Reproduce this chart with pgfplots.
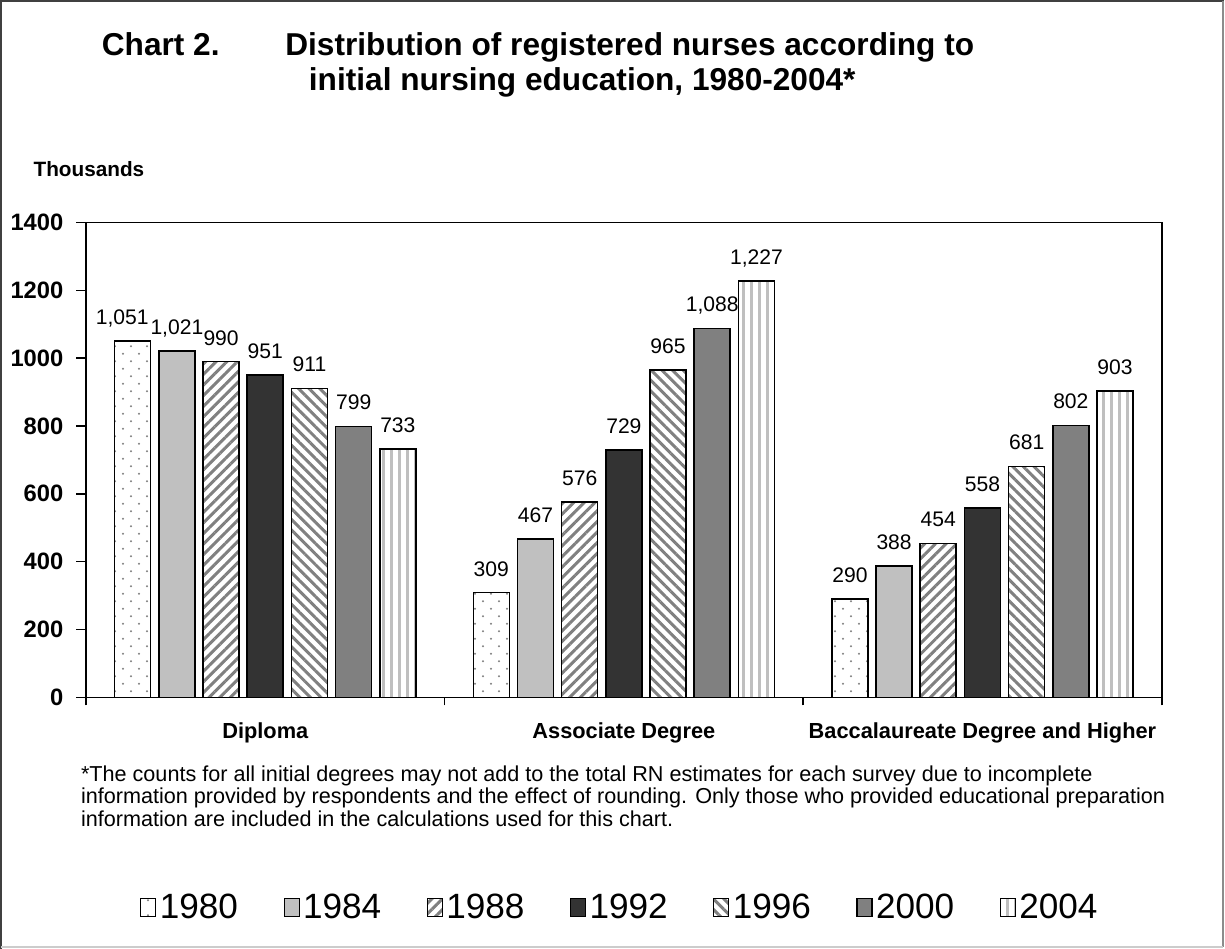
\documentclass[border=0pt]{standalone}
\usepackage{fontspec}
\setmainfont{Liberation Sans}
\usepackage{pgfplots}
\pgfplotsset{compat=1.18}
\usetikzlibrary{patterns.meta}

\definecolor{c84}{RGB}{192,192,192}
\definecolor{c92}{RGB}{51,51,51}
\definecolor{c00}{RGB}{128,128,128}

% staggered sparse dots, as in the 1980 bars
\tikzdeclarepattern{
  name=stagdots,
  type=uncolored,
  bounding box={(0,0) and (0.32cm,0.3cm)},
  tile size={(0.32cm,0.3cm)},
  code={
    \fill (0.08cm,0.075cm) circle (0.022cm);
    \fill (0.24cm,0.225cm) circle (0.022cm);
  }
}

% 1980 values, dx nudges a label sideways (pt)
\pgfplotstableread{
x y dx
0 1051 -6
1 309 0
2 290 0
}\dataA

\begin{document}
\begin{tikzpicture}
\begin{scope}[x=0.02cm,y=-0.02cm]
\useasboundingbox (0,0) rectangle (1225,949);
% frame
\draw[black!75,line width=0.05cm] (1,949) -- (1,1) -- (1224,1);
\draw[black!45,line width=0.04cm] (1223,1) -- (1223,947);
\draw[black!20,line width=0.04cm] (1,947) -- (1223,947);
% title
\node[anchor=base west,inner sep=0,font=\fontsize{18}{20}\selectfont\bfseries] at (101.5,56) {Chart 2.};
\node[anchor=base west,inner sep=0,font=\fontsize{18}{20}\selectfont\bfseries] at (285,56) {Distribution of registered nurses according to};
\node[anchor=base west,inner sep=0,font=\fontsize{18}{20}\selectfont\bfseries] at (308.6,91) {initial nursing education, 1980-2004*};
\node[anchor=base west,inner sep=0,font=\fontsize{11.8}{13}\selectfont\bfseries] at (33.3,176.7) {Thousands};
% footnote
\node[anchor=base west,inner sep=0,font=\fontsize{12.3}{14}\selectfont] at (80.7,781.7) {*The counts for all initial degrees may not add to the total RN estimates for each survey due to incomplete};
\node[anchor=base west,inner sep=0,font=\fontsize{12.3}{14}\selectfont] at (80.7,804) {information provided by respondents and the effect of rounding. Only those who provided educational preparation};
\node[anchor=base west,inner sep=0,font=\fontsize{12.3}{14}\selectfont] at (80.7,826.7) {information are included in the calculations used for this chart.};
\end{scope}

\begin{axis}[
  at={(1.72cm,-13.95cm)}, anchor=south west,
  scale only axis, width=21.52cm, height=9.5cm,
  ymin=0, ymax=1400, ytick={0,200,...,1400},
  xmin=-0.5, xmax=2.5,
  xtick={0,1,2},
  xticklabels={Diploma,Associate Degree,Baccalaureate Degree and Higher},
  minor xtick={-0.5,0.5,1.5,2.5},
  tick align=outside, ytick pos=left, xtick pos=bottom,
  major tick length=0.19cm, minor tick length=0.16cm,
  axis line style={line width=0.9pt},
  tick style={black,line width=0.9pt},
  major x tick style={draw=none},
  /pgf/number format/assume math mode=true,
  /pgf/number format/1000 sep={},
  tick label style={font=\fontsize{13.5}{14}\selectfont\bfseries},
  xticklabel style={font=\fontsize{12.4}{14}\selectfont\bfseries,anchor=base,yshift=-0.63cm},
  yticklabel style={xshift=-0.14cm},
  ybar=0.164cm, bar width=0.72cm,
  legend image code/.code={\draw[#1,line width=0.6pt] (0cm,-0.17cm) rectangle (0.3cm,0.19cm);},
  nodes near coords={\pgfmathprintnumber[1000 sep={,}]{\pgfplotspointmeta}},
  every node near coord/.append style={font=\fontsize{12}{14}\selectfont,anchor=base,yshift=0.33cm,inner sep=0},
  legend style={at={(0.497,-0.443)}, anchor=center, draw=none,
    font=\fontsize{20}{22}\selectfont, legend columns=7,
    /tikz/every even column/.append style={column sep=0.84cm}},
]
\addplot[draw=black,line width=0.9pt,pattern=stagdots,pattern color=black!50,
  visualization depends on={\thisrow{dx}\as\labeldx},
  every node near coord/.append style={xshift=\labeldx}]
  table[x=x,y=y] {\dataA};
\addplot[draw=black,line width=0.9pt,fill=c84]
  coordinates {(0,1021)(1,467)(2,388)};
\addplot[draw=black,line width=0.9pt,pattern={Lines[angle=45,distance=0.15cm,line width=0.06cm]},pattern color=black!50]
  coordinates {(0,990)(1,576)(2,454)};
\addplot[draw=black,line width=0.9pt,fill=c92]
  coordinates {(0,951)(1,729)(2,558)};
\addplot[draw=black,line width=0.9pt,pattern={Lines[angle=-45,distance=0.15cm,line width=0.06cm]},pattern color=black!50]
  coordinates {(0,911)(1,965)(2,681)};
\addplot[draw=black,line width=0.9pt,fill=c00]
  coordinates {(0,799)(1,1088)(2,802)};
\addplot[draw=black,line width=0.9pt,pattern={Lines[angle=90,distance=0.16cm,line width=0.06cm]},pattern color=black!25]
  coordinates {(0,733)(1,1227)(2,903)};
\legend{1980,1984,1988,1992,1996,2000,2004}
\end{axis}
\end{tikzpicture}
\end{document}
